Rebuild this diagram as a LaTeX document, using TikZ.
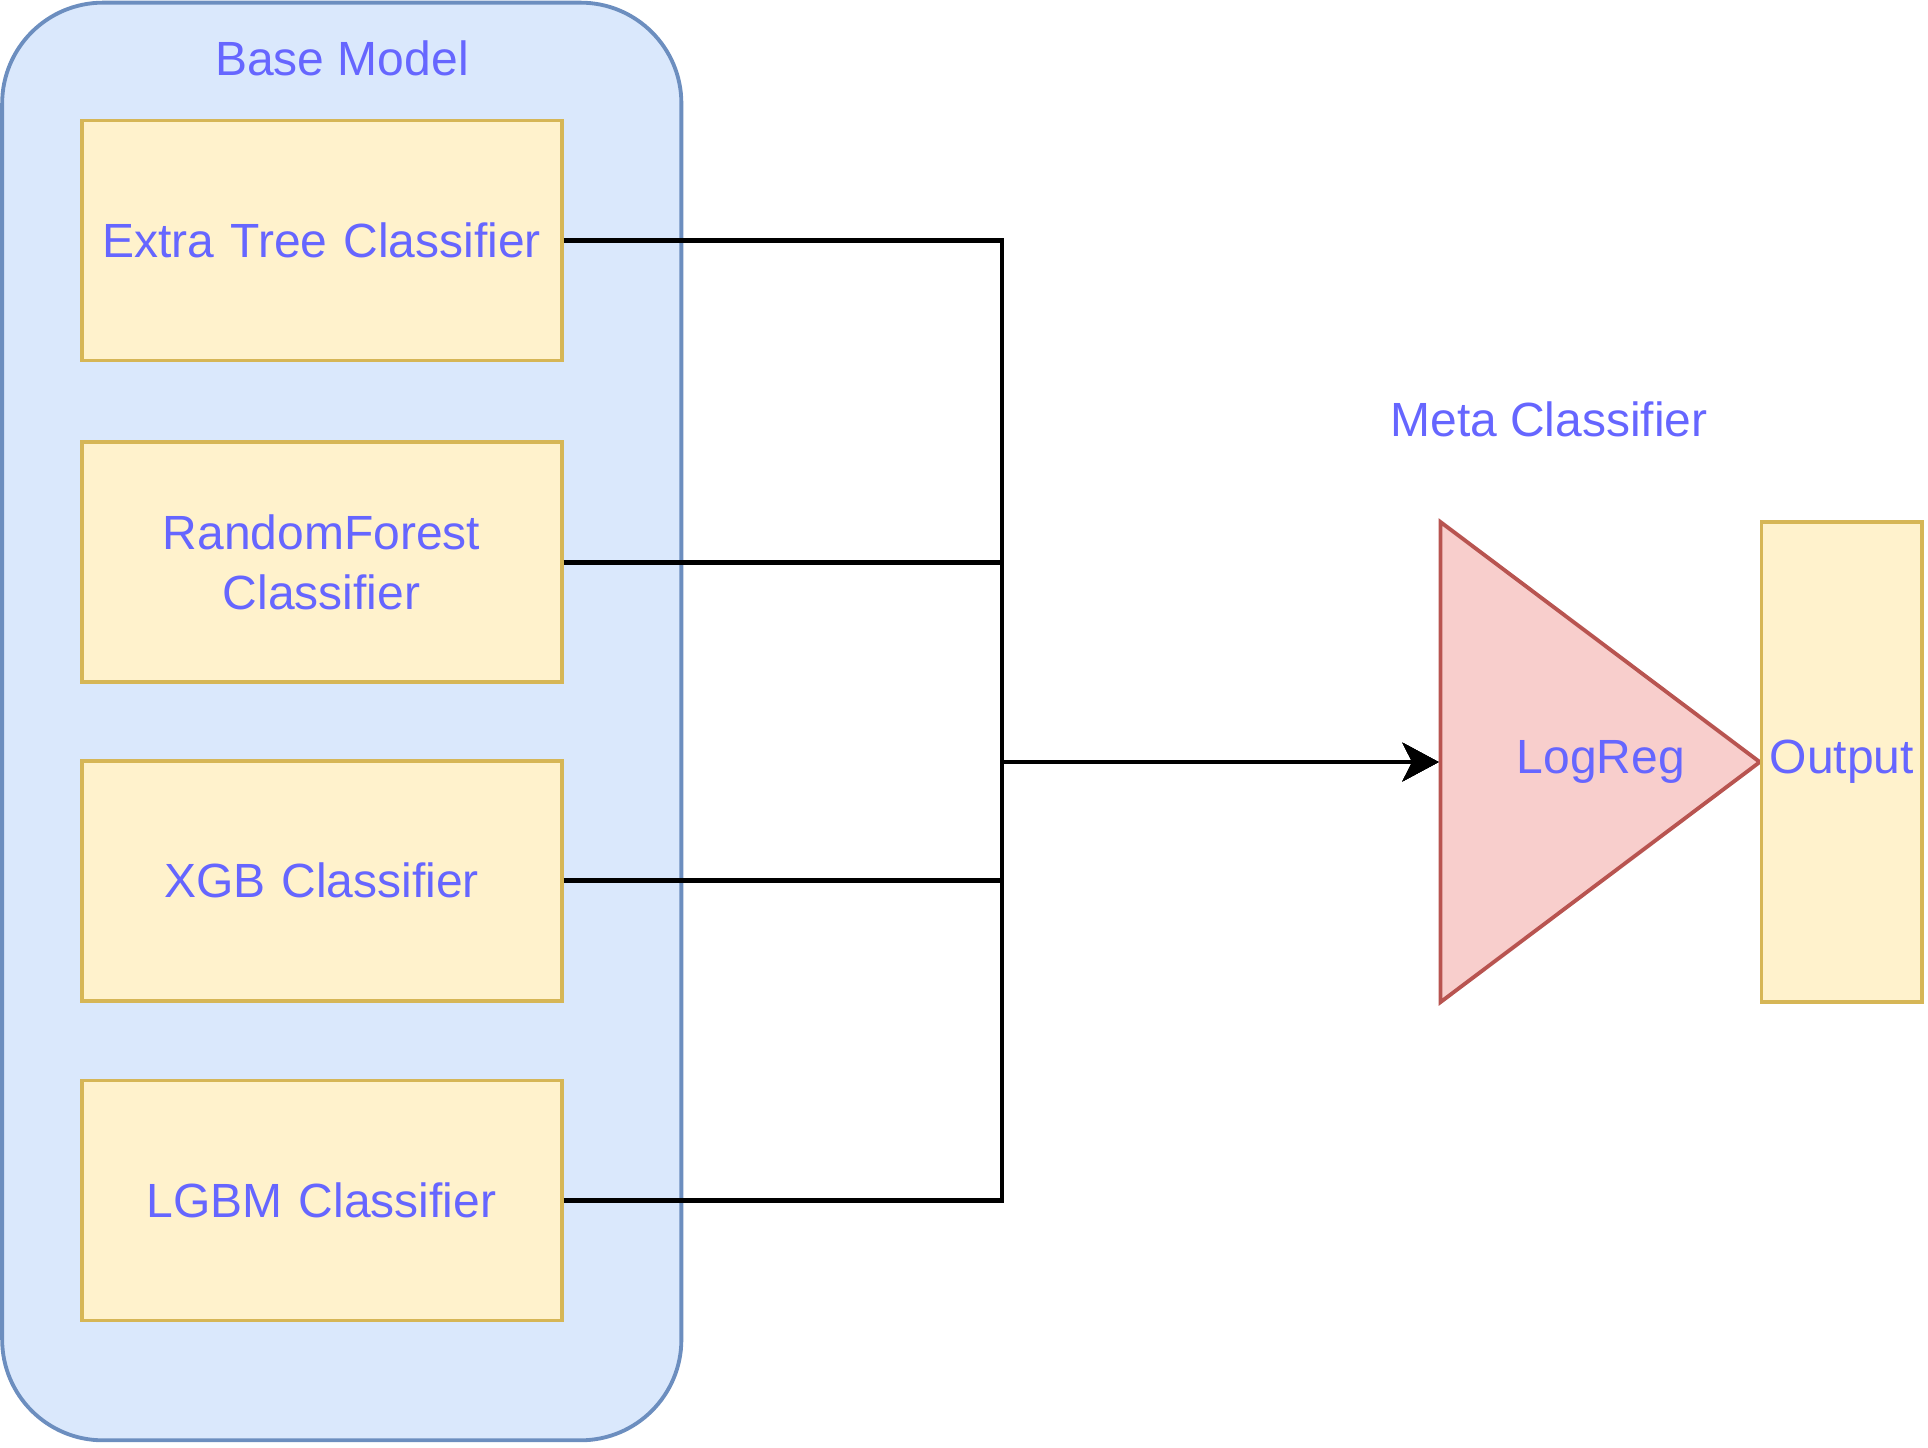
\documentclass[tikz,border=0pt]{standalone}
\usepackage{fontspec}
\setmainfont{Liberation Sans}
\usetikzlibrary{arrows.meta,shapes.geometric,positioning}
\definecolor{basefill}{RGB}{218,232,252}
\definecolor{basedraw}{RGB}{108,142,191}
\definecolor{clffill}{RGB}{255,242,204}
\definecolor{clfdraw}{RGB}{214,182,86}
\definecolor{metafill}{RGB}{248,206,204}
\definecolor{metadraw}{RGB}{184,84,80}
\definecolor{txtblue}{RGB}{102,102,255}
\newcommand{\lbl}{\fontsize{20}{24.6}\selectfont}
\tikzset{
  group/.style={rectangle,rounded corners=42pt,draw=basedraw,
                fill=basefill,line width=1.6pt,minimum width=283pt,
                minimum height=599pt},
  clf/.style={rectangle,draw=clfdraw,fill=clffill,line width=1.6pt,
              minimum width=200pt,minimum height=100pt,text width=190pt,
              align=center,inner sep=0pt,font=\lbl,text=txtblue},
  outbox/.style={rectangle,draw=clfdraw,fill=clffill,line width=1.6pt,
                 minimum width=67pt,minimum height=200pt,inner sep=0pt,
                 font=\lbl,text=txtblue},
  meta/.style={isosceles triangle,isosceles triangle stretches,
               shape border rotate=0,draw=metadraw,fill=metafill,
               line width=1.6pt,minimum width=200pt,minimum height=133pt,
               inner sep=0pt},
  caption/.style={font=\lbl,text=txtblue,inner sep=0pt},
  link/.style={-{Stealth[length=15pt,width=16pt,inset=4pt]},line width=1.9pt,black},
}
\begin{document}
\begin{tikzpicture}[x=1pt,y=-1pt]
  \useasboundingbox (0,0) rectangle (803.3,603.3);
  % base models
  \node[group] (base) at (142.4,300.6) {};
  \node[caption] (basecap) at (142.5,24.2) {Base Model};
  \node[clf] (et) at (134,100.2) {Extra Tree Classifier};
  \node[clf] (rf) at (134,234.3) {RandomForest\\Classifier};
  \node[clf] (xgb) at (134,366.9) {XGB Classifier};
  \node[clf] (lgbm) at (134,500.2) {LGBM Classifier};
  % meta classifier
  \node[meta,anchor=apex] (lr) at (735.3,317.5) {};
  \node[caption] (lrtext) at (667,317.5) {LogReg};
  \node[caption] (metacap) at (645.4,174.6) {Meta Classifier};
  \node[outbox] (out) at (767.4,317.5) {Output};
  \coordinate (jn) at (417.5,317.5);
  \draw[link] (et.east) -| (jn) -- (lr.west);
  \draw[link] (rf.east) -| (jn) -- (lr.west);
  \draw[link] (xgb.east) -| (jn) -- (lr.west);
  \draw[link] (lgbm.east) -| (jn) -- (lr.west);
\end{tikzpicture}
\end{document}
